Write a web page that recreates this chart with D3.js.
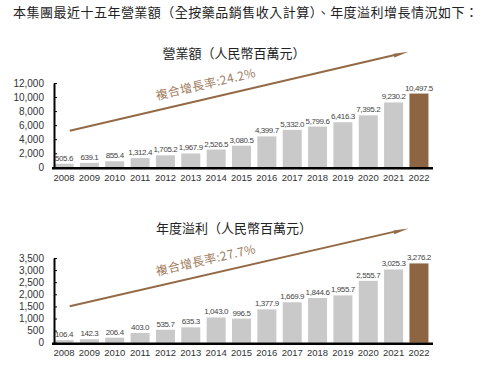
<!DOCTYPE html>
<html><head><meta charset="utf-8">
<script src="https://cdn.jsdelivr.net/npm/d3@7"></script>
<style>
html,body{margin:0;padding:0;background:#fff;}
svg{display:block;}
</style></head>
<body>
<svg id="c" width="499" height="369"></svg>
<script>
const years = ["2008","2009","2010","2011","2012","2013","2014","2015","2016","2017","2018","2019","2020","2021","2022"];
const revenue = [505.6,639.1,855.4,1312.4,1705.2,1967.9,2526.5,3080.5,4399.7,5332.0,5799.6,6416.3,7395.2,9230.2,10497.5];
const profit = [106.4,142.3,206.4,403.0,535.7,635.3,1043.0,996.5,1377.9,1669.9,1844.6,1955.7,2555.7,3025.3,3276.2];
const revenueTicks = [0,2000,4000,6000,8000,10000,12000];
const profitTicks = [0,500,1000,1500,2000,2500,3000,3500];
const mainTitle = "本集團最近十五年營業額（全按藥品銷售收入計算）、年度溢利增長情況如下：";
const revenueTitle = "營業額（人民幣百萬元）";
const profitTitle = "年度溢利（人民幣百萬元）";
const revenueCagr = "複合增長率:24.2%";
const profitCagr = "複合增長率:27.7%";
// arrow trend endpoints (value units)
const revenueArrow = [5200, 16450];
const profitArrow = [1510, 4720];

const svg = d3.select("#c");
const CJK = "'Noto Sans CJK TC','Noto Sans CJK SC',sans-serif";
const NUM = "'Liberation Sans',Arial,sans-serif";
const gray = "#c8c9c8", brown = "#8d6543", arrowCol = "#936a45", cagrCol = "#a07c5e";

svg.append("text").attr("x",13).attr("y",17)
  .attr("font-family",CJK).attr("font-size",13).attr("fill","#222")
  .attr("textLength",465).attr("lengthAdjust","spacing")
  .text(mainTitle);

const x = d3.scaleBand().domain(years).range([52,431]).paddingInner(0.25).paddingOuter(0.1);

function panel(opts){
  const {values, ticks, max, y0, y1, title, titleY, cagr, arrow} = opts;
  const y = d3.scaleLinear().domain([0,max]).range([y0,y1]);
  const g = svg.append("g");

  g.append("text").attr("x",234).attr("y",titleY).attr("text-anchor","middle")
    .attr("font-family",CJK).attr("font-size",13).attr("fill","#222").text(title);

  g.selectAll("rect.bar").data(values).join("rect")
    .attr("x",(d,i)=>x(years[i])).attr("width",x.bandwidth())
    .attr("y",d=>y(d)).attr("height",d=>y0-y(d))
    .attr("fill",(d,i)=> i===values.length-1 ? brown : gray);

  g.selectAll("text.val").data(values).join("text")
    .attr("x",(d,i)=>x(years[i])+x.bandwidth()/2)
    .attr("y",d=>y(d)-3)
    .attr("text-anchor","middle").attr("font-family",NUM).attr("font-size",8)
    .attr("letter-spacing","-0.4").attr("fill","#444")
    .text(d=>d3.format(",.1f")(d));

  const ax = g.append("g").attr("transform",`translate(54,0)`)
    .call(d3.axisLeft(y).tickValues(ticks).tickFormat(d3.format(",")).tickSizeInner(-3).tickSizeOuter(0).tickPadding(10));
  ax.select(".domain").attr("stroke","#000").attr("stroke-width",2);
  ax.selectAll(".tick line").attr("stroke","#000").attr("stroke-width",1);
  ax.selectAll("text").attr("font-family",NUM).attr("font-size",10).attr("fill","#333");

  g.append("line").attr("x1",52).attr("x2",433).attr("y1",y0+1).attr("y2",y0+1)
    .attr("stroke","#000").attr("stroke-width",2.5);

  g.selectAll("text.yr").data(years).join("text")
    .attr("x",d=>x(d)+x.bandwidth()/2).attr("y",y0+13.5)
    .attr("text-anchor","middle").attr("font-family",NUM).attr("font-size",9.5)
    .attr("fill","#333").text(d=>d);

  // trend arrow
  const ax1 = x("2008")+x.bandwidth()*0.8, ay1 = y(arrow[0]);
  const ax2 = x("2022")-1, ay2 = y(arrow[1]);
  const ang = Math.atan2(ay2-ay1, ax2-ax1);
  const L = 15, W = 2.4;
  const bx = ax2 - L*Math.cos(ang), by = ay2 - L*Math.sin(ang);
  g.append("line").attr("x1",ax1).attr("y1",ay1).attr("x2",bx+2*Math.cos(ang)).attr("y2",by+2*Math.sin(ang))
    .attr("stroke",arrowCol).attr("stroke-width",2);
  const px = -Math.sin(ang), py = Math.cos(ang);
  g.append("path").attr("d",`M${ax2},${ay2}L${bx+px*W},${by+py*W}L${bx-px*W*0.6},${by-py*W*0.6}Z`)
    .attr("fill",arrowCol);

  const tx = 157;
  const t = (tx-ax1)/(ax2-ax1);
  const ly = ay1 + t*(ay2-ay1);
  const deg = ang*180/Math.PI;
  g.append("text").attr("transform",`translate(${tx},${ly-10.5}) rotate(${deg})`)
    .attr("font-family",CJK).attr("font-size",12).attr("letter-spacing","0.4")
    .attr("fill",cagrCol).text(cagr);
}

panel({values:revenue, ticks:revenueTicks, max:12000, y0:167.3, y1:83, title:revenueTitle, titleY:58, cagr:revenueCagr, arrow:revenueArrow});
panel({values:profit, ticks:profitTicks, max:3500, y0:342.7, y1:258, title:profitTitle, titleY:233, cagr:profitCagr, arrow:profitArrow});
</script>
</body></html>
